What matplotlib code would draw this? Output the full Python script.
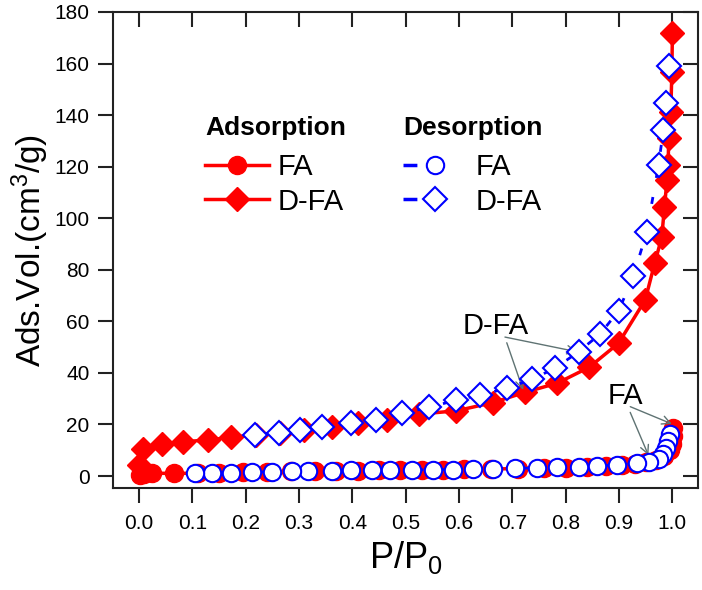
import matplotlib
matplotlib.use("Agg")
import matplotlib.pyplot as plt
from matplotlib.lines import Line2D

plt.rcParams['font.family'] = ['Liberation Sans', 'DejaVu Sans']
plt.rcParams['mathtext.fontset'] = 'custom'
plt.rcParams['mathtext.rm'] = 'Liberation Sans'
plt.rcParams['mathtext.it'] = 'Liberation Sans:italic'
plt.rcParams['mathtext.bf'] = 'Liberation Sans:bold'

# ---- data ----
fa_ads_x = [0.001, 0.010, 0.025, 0.065, 0.110, 0.150, 0.195, 0.240, 0.285, 0.330,
            0.370, 0.410, 0.450, 0.490, 0.530, 0.570, 0.610, 0.660, 0.710, 0.760,
            0.800, 0.840, 0.875, 0.905, 0.930, 0.950, 0.970, 0.985, 0.995, 1.000,
            1.002, 1.002]
fa_ads_y = [0.3, 0.9, 1.1, 1.0, 1.1, 1.2, 1.4, 1.6, 1.8, 1.9,
            2.0, 2.1, 2.2, 2.3, 2.4, 2.5, 2.6, 2.7, 2.9, 3.1,
            3.3, 3.6, 3.9, 4.3, 4.8, 5.3, 6.2, 7.8, 10.0, 12.5,
            15.5, 18.5]

dfa_ads_x = [0.000, 0.008, 0.042, 0.083, 0.130, 0.173, 0.220, 0.265, 0.310, 0.361,
             0.410, 0.464, 0.525, 0.595, 0.664, 0.724, 0.784, 0.844, 0.899, 0.949,
             0.967, 0.980, 0.985, 0.990, 0.992, 0.993, 0.997, 0.999, 1.000]
dfa_ads_y = [4.2, 10.5, 12.5, 13.3, 14.0, 15.0, 16.0, 16.8, 17.8, 19.1,
             20.5, 21.7, 24.0, 25.3, 28.5, 32.5, 36.0, 42.2, 51.5, 68.3,
             82.7, 92.6, 104.2, 115.0, 120.6, 131.0, 141.3, 156.8, 172.0]

fa_des_x = [0.996, 0.992, 0.988, 0.983, 0.974, 0.957, 0.933, 0.896, 0.858, 0.824,
            0.783, 0.746, 0.705, 0.664, 0.627, 0.589, 0.552, 0.511, 0.470, 0.436,
            0.398, 0.361, 0.317, 0.286, 0.250, 0.211, 0.173, 0.136, 0.105]
fa_des_y = [16.2, 13.5, 11.0, 8.5, 6.5, 5.4, 4.9, 4.3, 3.9, 3.6,
            3.4, 3.1, 3.0, 2.7, 2.6, 2.5, 2.4, 2.4, 2.3, 2.3,
            2.2, 2.1, 2.0, 1.8, 1.6, 1.5, 1.3, 1.1, 1.0]

dfa_des_x = [0.993, 0.988, 0.983, 0.974, 0.952, 0.927, 0.899, 0.864, 0.824, 0.780,
             0.736, 0.689, 0.639, 0.595, 0.544, 0.492, 0.444, 0.398, 0.342, 0.301,
             0.263, 0.217]
dfa_des_y = [159.0, 144.6, 134.2, 120.6, 94.8, 77.6, 64.0, 55.0, 48.2, 41.8,
             37.5, 34.0, 31.4, 29.5, 26.6, 24.3, 21.7, 20.4, 19.1, 17.8,
             16.8, 15.9]

x_ticks = [0.0, 0.1, 0.2, 0.3, 0.4, 0.5, 0.6, 0.7, 0.8, 0.9, 1.0]
y_ticks = [0, 20, 40, 60, 80, 100, 120, 140, 160, 180]

RED = '#ff0000'
BLUE = '#0000ff'
DARK = '#222222'
ARROW = '#5f7373'

fig = plt.figure(figsize=(7.02, 5.90), dpi=100)
ax = fig.add_axes([113/702, 1-488/590, 585/702, 476/590])

ax.plot(fa_ads_x, fa_ads_y, color=RED, lw=2.5, marker='o', ms=13,
        mfc=RED, mec=RED, zorder=3)
ax.plot(dfa_ads_x, dfa_ads_y, color=RED, lw=2.5, marker='D', ms=12,
        mfc=RED, mec=RED, zorder=3)
ax.plot(fa_des_x, fa_des_y, color=BLUE, lw=2, dashes=(2.5, 7), marker='o', ms=12.5,
        mfc='white', mec=BLUE, mew=1.5, zorder=4)
ax.plot(dfa_des_x, dfa_des_y, color=BLUE, lw=2, dashes=(2.5, 7), marker='D', ms=12,
        mfc='white', mec=BLUE, mew=1.5, zorder=4)

ax.set_xlim(-0.049, 1.048)
ax.set_ylim(-4.65, 180)
ax.set_xticks(x_ticks)
ax.set_xticklabels([f"{v:.1f}" for v in x_ticks])
ax.set_yticks(y_ticks)

for s in ax.spines.values():
    s.set_linewidth(1.5)
    s.set_color(DARK)

ax.tick_params(axis='both', which='major', direction='out', length=11, width=1.5,
               color=DARK, labelsize=15, labelcolor='black')
ax.tick_params(axis='x', pad=8)
ax.tick_params(axis='y', pad=6)
ax.tick_params(axis='both', which='minor', length=0)
# inward ticks on top and right
secx = ax.secondary_xaxis('top')
secx.set_xticks(x_ticks)
secx.tick_params(direction='in', length=11, width=1.5, color=DARK, labeltop=False)
secx.spines['top'].set_visible(False)
secy = ax.secondary_yaxis('right')
secy.set_yticks(y_ticks)
secy.tick_params(direction='in', length=11, width=1.5, color=DARK, labelright=False)
secy.spines['right'].set_visible(False)

ax.set_xlabel('P/P$_0$', fontsize=26, labelpad=4)
ax.set_ylabel('Ads.Vol.(cm$^3$/g)', fontsize=24, labelpad=2)

# annotations
ap = dict(arrowstyle='->', color=ARROW, lw=1.0, shrinkA=0, shrinkB=0,
          mutation_scale=15)
ax.annotate('D-FA', xy=(0.720, 33.4), xytext=(0.669, 58.2), fontsize=21,
            ha='center', va='center', arrowprops=dict(ap, relpos=(0.65, 0.0)))
ax.annotate('', xy=(0.821, 48.2), xytext=(0.686, 53.9), arrowprops=ap)
ax.annotate('FA', xy=(0.955, 8.1), xytext=(0.912, 31.2), fontsize=21,
            ha='center', va='center', arrowprops=dict(ap, relpos=(0.6, 0.0)))
ax.annotate('', xy=(0.999, 20.2), xytext=(0.921, 26.9), arrowprops=ap)

# legends
h_ads = [Line2D([], [], color=RED, lw=2.5, marker='o', ms=13, mfc=RED, mec=RED),
         Line2D([], [], color=RED, lw=2.5, marker='D', ms=12, mfc=RED, mec=RED)]
h_des = [Line2D([], [], color=BLUE, lw=2.5, dashes=(4, 30), marker='o', ms=12.5,
                mfc='white', mec=BLUE, mew=1.5),
         Line2D([], [], color=BLUE, lw=2.5, dashes=(4, 30), marker='D', ms=12,
                mfc='white', mec=BLUE, mew=1.5)]
common = dict(loc='upper left', frameon=False, borderpad=0, borderaxespad=0,
              handlelength=2.2, handletextpad=0.3, labelspacing=0.23,
              fontsize=21, numpoints=1, alignment='left',
              title_fontproperties={'weight': 'bold', 'size': 19})
leg1 = ax.legend(h_ads, ['FA', 'D-FA'], title='Adsorption',
                 bbox_to_anchor=(0.157, 0.782), **common)
ax.add_artist(leg1)
leg2 = ax.legend(h_des, ['FA', 'D-FA'], title='Desorption',
                 bbox_to_anchor=(0.496, 0.782), **common)
for lg in (leg1, leg2):
    try:
        lg._legend_box.sep = 9.5
    except Exception:
        pass

fig.savefig('out.png', dpi=100)
